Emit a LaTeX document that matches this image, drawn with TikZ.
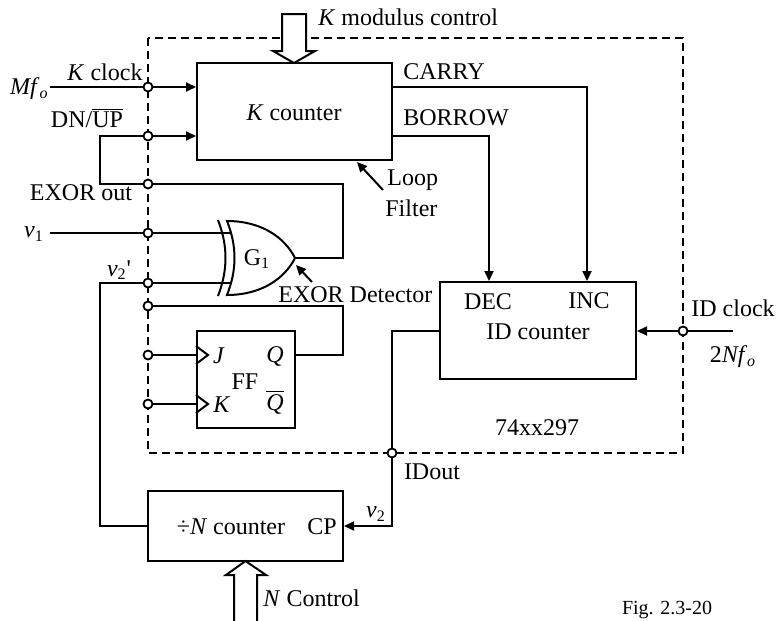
\documentclass[tikz,border=0pt]{standalone}
\usepackage{fontspec}
\setmainfont{Liberation Serif}
\usetikzlibrary{arrows.meta}
\begin{document}
\begin{tikzpicture}[x=0.5pt,y=-0.5pt,
  wire/.style={line width=1pt},
  arr/.style={wire,-{Triangle[length=5pt,width=4.5pt]}},
  blk/.style={draw,line width=1pt,inner sep=0pt},
  term/.style={circle,draw,fill=white,line width=0.9pt,inner sep=0pt,minimum size=4.5pt},
  lbl/.style={inner sep=0pt,font=\fontsize{12}{14}\selectfont},
  small/.style={inner sep=0pt,font=\fontsize{10}{12}\selectfont},
  dbox/.style={line width=0.9pt,dash pattern=on 4pt off 2.5pt},
  hollow/.style={line width=1pt,fill=white,line join=miter}]
\useasboundingbox (0,0) rectangle (777,621);
% dashed package outline
\draw[dbox] (148,38) rectangle (683,453);
% blocks
\node[blk,minimum width=97.5pt,minimum height=48.5pt] (kc) at (294.5,111.5) {};
\node[blk,minimum width=98pt,minimum height=48.5pt] (idc) at (538,330.5) {};
\node[blk,minimum width=49pt,minimum height=48.5pt] (ff) at (246,379.5) {};
\node[blk,minimum width=97.5pt,minimum height=35pt] (divn) at (245.5,526) {};
% terminals
\node[term] (tk) at (148,87) {};
\node[term] (td) at (148,136) {};
\node[term] (teo) at (148,184) {};
\node[term] (tv1) at (148,233) {};
\node[term] (tv2) at (148,283) {};
\node[term] (tfb) at (148,306) {};
\node[term] (tj) at (148,355) {};
\node[term] (tkk) at (148,404) {};
\node[term] (tid) at (683,331) {};
\node[term] (tio) at (392,453) {};
% helper coordinates
\coordinate (inMf) at (50,87);
\coordinate (dnc) at (100,136);
\coordinate (eoc) at (343,184);
\coordinate (v1s) at (50,233);
\coordinate (v2c) at (100,283);
\coordinate (fbc) at (343,306);
\coordinate (cy) at (587,87);
\coordinate (bc) at (489,136);
\coordinate (idin) at (733,331);
\coordinate (ioc) at (392,330.5);
\coordinate (gout) at (295,258);
\coordinate (gin1) at (230,233);
\coordinate (gin2) at (230,283);
% XOR gate G1
\draw[wire] (227,221) .. controls (262,221) and (285,238) .. (gout)
  .. controls (285,278) and (262,295) .. (227,295)
  .. controls (237,270) and (237,246) .. cycle;
\draw[wire] (218,220) .. controls (228,246) and (228,270) .. (218,296);
% K counter inputs
\draw[wire] (inMf) -- (tk.west);
\draw[arr] (tk.east) -- (tk -| kc.west);
\draw[wire] (teo.west) -| (dnc) -- (td.west);
\draw[arr] (td.east) -- (td -| kc.west);
\draw[wire] (teo.east) -- (eoc) |- (gout);
% gate inputs
\draw[wire] (v1s) -- (tv1.west);
\draw[wire] (tv1.east) -- (gin1);
\draw[wire] (tv2.east) -- (gin2);
\draw[wire] (tv2.west) -- (v2c) |- (divn.west);
% flip-flop
\draw[wire] (tfb.east) -- (fbc) |- (tj -| ff.east);
\draw[wire] (tj.east) -- (tj -| ff.west);
\draw[wire] (tkk.east) -- (tkk -| ff.west);
\draw[wire] (tj -| ff.west) ++(0,-9) -- ++(12,9) -- ++(-12,9);
\draw[wire] (tkk -| ff.west) ++(0,-9) -- ++(12,9) -- ++(-12,9);
% carry / borrow
\draw[arr] (tk -| kc.east) -- (cy) -- (cy |- idc.north);
\draw[arr] (td -| kc.east) -- (bc) -- (bc |- idc.north);
% ID clock
\draw[wire] (idin) -- (tid.east);
\draw[arr] (tid.west) -- (tid -| idc.east);
% ID out
\draw[wire] (idc.west) -- (ioc) -- (tio.north);
\draw[arr] (tio.south) |- (divn.east);
% pointer arrows
\coordinate (lfa) at (383,190); \coordinate (lfb) at (357,162);
\draw[arr] (lfa) -- (lfb);
\coordinate (eda) at (312,282); \coordinate (edb) at (296,265);
\draw[arr] (eda) -- (edb);
% hollow bus arrows
\draw[hollow] (282,14) -- (282,51) -- (273,51) -- (294,63) -- (315,51) -- (306,51) -- (306,14) -- cycle;
\draw[hollow] (234,621) -- (234,575) -- (226,575) -- (245.5,561) -- (266,575) -- (257,575) -- (257,621);
% labels
\node[lbl] at (294,113) {\textit{K} counter};
\node[lbl] at (538,332) {ID counter};
\node[lbl] at (488,302) {DEC};
\node[lbl] at (589,301) {INC};
\node[lbl] at (537,428) {74xx297};
\node[lbl,anchor=west] at (318,17) {\textit{K} modulus control};
\node[lbl,anchor=east] at (49,89) {\textit{Mf}\textsubscript{\textit{o}}};
\node[lbl] at (105,72) {\textit{K} clock};
\node[lbl] at (87,118) {DN/$\overline{\hbox{UP}}$};
\node[lbl] at (81,193) {EXOR out};
\node[lbl] at (34,234) {\textit{v}\textsubscript{1}};
\node[lbl] at (119,270) {\textit{v}\textsubscript{2}\textquotesingle};
\node[lbl] at (257,259) {G\textsubscript{1}};
\node[lbl,anchor=west] at (278,295) {EXOR Detector};
\node[lbl,anchor=west] at (387,180) {Loop};
\node[lbl,anchor=west] at (385,208) {Filter};
\node[lbl,anchor=west] at (403,72) {CARRY};
\node[lbl,anchor=west] at (403,118) {BORROW};
\node[lbl] at (733,308) {ID clock};
\node[lbl] at (733,357) {2\textit{Nf}\textsubscript{\textit{o}}};
\node[lbl] at (432,472) {IDout};
\node[lbl] at (376,514) {\textit{v}\textsubscript{2}};
\node[lbl] at (231,527) {÷\textit{N} counter};
\node[lbl] at (322,527) {CP};
\node[lbl,anchor=west] at (263,598) {\textit{N} Control};
\node[lbl] at (219,356) {\textit{J}};
\node[lbl] at (275,356) {\textit{Q}};
\node[lbl] at (245,382) {FF};
\node[lbl] at (222,405) {\textit{K}};
\node[lbl] at (275,402) {$\overline{\hbox{\itshape Q}}$};
\node[small] at (667,610) {Fig. 2.3-20};
\end{tikzpicture}
\end{document}
